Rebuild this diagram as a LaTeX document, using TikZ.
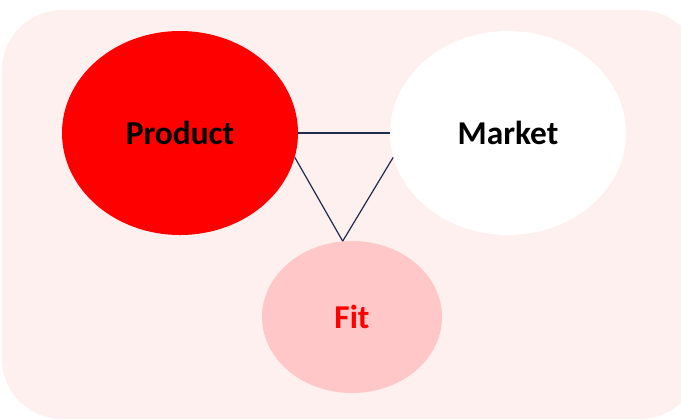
\documentclass[tikz,border=0pt]{standalone}
\usepackage{fontspec}
\setmainfont{Carlito}
\usetikzlibrary{shapes.geometric}
\definecolor{bgpink}{HTML}{FDF0EF}
\definecolor{fitpink}{HTML}{FFC7C7}
\definecolor{linkblue}{HTML}{1F2A4D}
\tikzset{
  blob/.style = {ellipse, inner sep=0pt, font=\fontsize{25}{30}\selectfont\bfseries},
  link/.style = {draw=linkblue, line width=0.9pt}
}
\begin{document}
\begin{tikzpicture}[x=0.75pt, y=-0.75pt]
\useasboundingbox (0,0) rectangle (681,419);
\fill[bgpink, rounded corners=45pt] (2,10) rectangle (700,419);
\node[blob, fill=red, minimum width=177pt, minimum height=153pt] (product) at (180,133) {Product};
\node[blob, fill=white, minimum width=177pt, minimum height=153pt] (market) at (508,133) {Market};
\node[blob, fill=fitpink, text=red, minimum width=135pt, minimum height=114pt] (fit) at (352,317) {Fit};
\draw[link] (product.east) -- (market.west);
\draw[link] (product.-12) -- (fit.97);
\draw[link] (market.192) -- (fit.97);
\end{tikzpicture}
\end{document}
